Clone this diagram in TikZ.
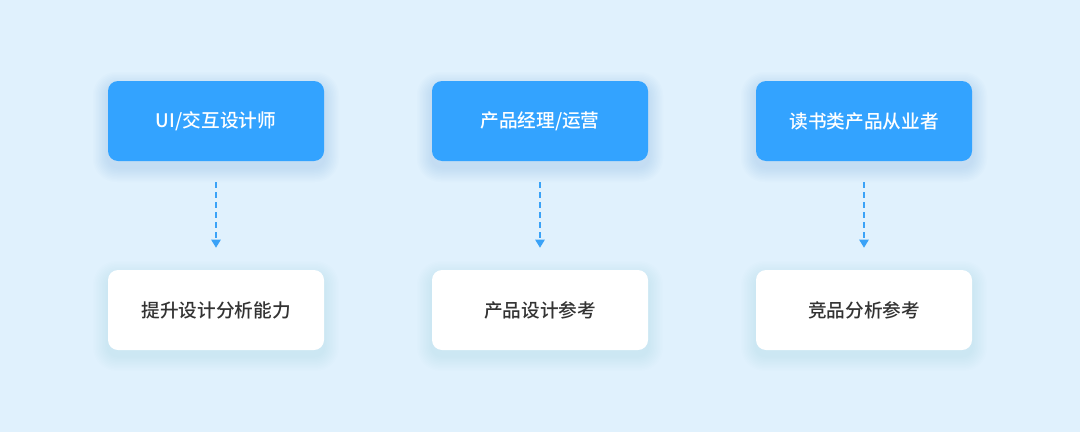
\documentclass[tikz,border=0pt]{standalone}
\usepackage{fontspec}
\newfontfamily\cjk[UprightFont=* Medium]{Noto Sans CJK SC}
\usetikzlibrary{arrows.meta,calc}
\definecolor{bg}{HTML}{E0F1FD}
\definecolor{topblue}{HTML}{33A3FF}
\definecolor{arrowblue}{HTML}{3AA2F7}
\definecolor{darktext}{HTML}{333333}
\definecolor{shadowc}{HTML}{4A90C8}
\tikzset{
  boxbase/.style={minimum width=216*0.75pt, minimum height=80*0.75pt, rounded corners=7.5pt, inner sep=0pt, font=\cjk\fontsize{14}{16}\selectfont},
  topbox/.style={boxbase, fill=topblue, text=white},
  botbox/.style={boxbase, fill=white, text=darktext},
  flowarrow/.style={draw=arrowblue, line width=1pt, dash pattern=on 4.5pt off 3pt, -{Triangle[length=6pt,width=7pt]}},
}
\newcommand{\softshadow}[2]{%
  \foreach \i in {1,...,10} {
    \fill[shadowc, opacity=#2, rounded corners=7.5pt+\i*1pt]
      ($(#1)+(-108-\i*1.5,-40-\i*1.5+6)$) rectangle ($(#1)+(108+\i*1.5,40+\i*1.5+6)$);
  }
}
\begin{document}
\begin{tikzpicture}[x=0.75pt,y=-0.75pt]
\fill[bg] (0,0) rectangle (1080,432);
\useasboundingbox (0,0) rectangle (1080,432);
\foreach \cx in {216,540,864} {
  \softshadow{\cx,121}{0.014}
  \softshadow{\cx,310}{0.009}
}
\node[topbox] (t1) at (216,121) {UI/交互设计师};
\node[topbox] (t2) at (540,121) {产品经理/运营};
\node[topbox] (t3) at (864,121) {读书类产品从业者};
\node[botbox] (b1) at (216,310) {提升设计分析能力};
\node[botbox] (b2) at (540,310) {产品设计参考};
\node[botbox] (b3) at (864,310) {竞品分析参考};
\foreach \n in {1,2,3} {
  \draw[flowarrow] ([yshift=-21*0.75pt]t\n.south) -- ([yshift=22*0.75pt]b\n.north);
}
\end{tikzpicture}
\end{document}
